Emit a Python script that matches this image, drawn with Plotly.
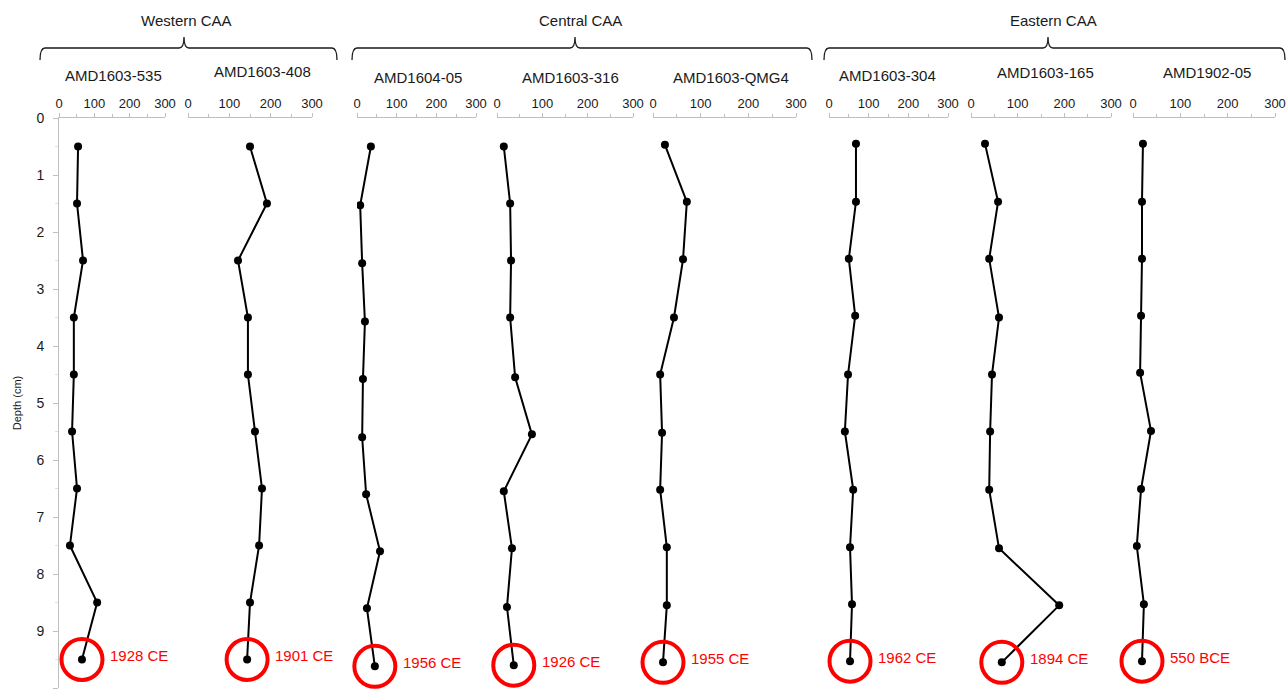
import plotly.graph_objects as go

# ---- data -------------------------------------------------------------
cores = ["AMD1603-535", "AMD1603-408", "AMD1604-05", "AMD1603-316",
         "AMD1603-QMG4", "AMD1603-304", "AMD1603-165", "AMD1902-05"]
regions = ["Western CAA", "Central CAA", "Eastern CAA"]
basal_ages = ["1928 CE", "1901 CE", "1956 CE", "1926 CE",
              "1955 CE", "1962 CE", "1894 CE", "550 BCE"]

depth_535 = [0.5, 1.5, 2.5, 3.5, 4.5, 5.5, 6.5, 7.5, 8.5, 9.5]
value_535 = [54, 51, 68, 42, 42, 37, 51, 31, 108, 65]

depth_408 = [0.5, 1.5, 2.5, 3.5, 4.5, 5.5, 6.5, 7.5, 8.5, 9.5]
value_408 = [150, 191, 121, 145, 145, 162, 179, 172, 150, 143]

depth_05 = [0.5, 1.53, 2.55, 3.57, 4.58, 5.6, 6.6, 7.6, 8.6, 9.62]
value_05 = [35, 8, 13, 20, 15, 13, 23, 58, 25, 45]

depth_316 = [0.5, 1.5, 2.5, 3.5, 4.55, 5.55, 6.55, 7.55, 8.58, 9.6]
value_316 = [15, 29, 31, 29, 40, 77, 15, 33, 22, 37]

depth_qmg4 = [0.47, 1.47, 2.48, 3.5, 4.5, 5.52, 6.52, 7.53, 8.55, 9.55]
value_qmg4 = [25, 71, 63, 44, 15, 19, 15, 29, 29, 21]

depth_304 = [0.45, 1.47, 2.47, 3.47, 4.5, 5.5, 6.52, 7.53, 8.53, 9.53]
value_304 = [68, 68, 50, 66, 48, 40, 61, 53, 58, 53]

depth_165 = [0.45, 1.47, 2.47, 3.5, 4.5, 5.5, 6.52, 7.55, 8.55, 9.55]
value_165 = [30, 58, 39, 60, 45, 41, 39, 60, 189, 66]

depth_1902 = [0.45, 1.47, 2.47, 3.47, 4.47, 5.49, 6.51, 7.51, 8.53, 9.53]
value_1902 = [21, 19, 19, 17, 15, 38, 17, 8, 23, 19]

depths = [depth_535, depth_408, depth_05, depth_316,
          depth_qmg4, depth_304, depth_165, depth_1902]
values = [value_535, value_408, value_05, value_316,
          value_qmg4, value_304, value_165, value_1902]

x_ticks = [0, 100, 200, 300]
depth_ticks = list(range(0, 11))

# ---- layout geometry (pixels) -----------------------------------------
W, H = 1287, 694
panel_px = [(59, 165), (188, 312), (357, 476), (497, 633),
            (653, 796), (829, 948), (971, 1111), (1133, 1275)]
title_px = [(113, 75), (262, 71), (418, 77), (570, 77),
            (731, 78), (888, 75), (1045, 72), (1207, 72)]
bracket_px = [(40, 184, 337), (352, 575, 812), (824, 1048, 1285)]
region_label_px = [(186, 21), (580, 21), (1053, 21)]
plot_top, plot_bottom = 118, 688

FONT = "Liberation Sans, Arial, sans-serif"
GREY = "#bfbfbf"
RED = "#ff0000"


def px(x):
    return x / W


def py(y):
    return 1 - y / H


fig = go.Figure()

for i, (d, v, age) in enumerate(zip(depths, values, basal_ages)):
    xa = "x" if i == 0 else f"x{i + 1}"
    fig.add_trace(go.Scatter(
        x=v, y=d, xaxis=xa, yaxis="y", mode="lines+markers",
        line=dict(color="black", width=2),
        marker=dict(color="black", size=8),
        showlegend=False, hoverinfo="x+y",
    ))
    # red ring around the basal sample
    fig.add_trace(go.Scatter(
        x=[v[-1]], y=[d[-1]], xaxis=xa, yaxis="y", mode="markers",
        marker=dict(symbol="circle-open", size=41, color=RED,
                    line=dict(color=RED, width=4)),
        cliponaxis=False, showlegend=False, hoverinfo="skip",
    ))

layout = dict(
    width=W, height=H,
    margin=dict(l=0, r=0, t=0, b=0, autoexpand=False),
    paper_bgcolor="white", plot_bgcolor="white",
    font=dict(family=FONT, color="#1a1a1a"),
    yaxis=dict(
        domain=[py(plot_bottom), py(plot_top)],
        range=[10, 0], anchor="x", automargin=False,
        tickvals=depth_ticks, ticks="outside", ticklen=5,
        tickcolor=GREY, tickfont=dict(size=14, family=FONT),
        ticklabelstandoff=6,
        showline=True, linecolor=GREY, linewidth=1,
        showgrid=False, zeroline=False,
        minor=dict(dtick=0.5, ticks="outside", ticklen=3, tickcolor="#e0e0e0"),
        title=dict(text="Depth (cm)", font=dict(size=11, family=FONT), standoff=12),
    ),
)

for i, (a, b) in enumerate(panel_px):
    key = "xaxis" if i == 0 else f"xaxis{i + 1}"
    layout[key] = dict(
        domain=[px(a), px(b)], range=[0, 300], anchor="y", side="top",
        automargin=False,
        tickvals=x_ticks, ticks="outside", ticklen=4, tickcolor=GREY,
        tickfont=dict(size=13, family=FONT),
        showline=True, linecolor=GREY, linewidth=1,
        showgrid=False, zeroline=False,
        minor=dict(tickvals=[50, 150, 250], ticks="outside", ticklen=3, tickcolor=GREY),
    )

fig.update_layout(**layout)

annotations = []
shapes = []

# core titles
for name, (tx, ty) in zip(cores, title_px):
    annotations.append(dict(text=name, x=px(tx), y=py(ty), xref="paper", yref="paper",
                            showarrow=False, xanchor="center", yanchor="middle",
                            font=dict(size=15, family=FONT, color="#1a1a1a")))

# region labels and curly brackets
for name, (lx, ly), (x0, xc, x1) in zip(regions, region_label_px, bracket_px):
    annotations.append(dict(text=name, x=px(lx), y=py(ly), xref="paper", yref="paper",
                            showarrow=False, xanchor="center", yanchor="middle",
                            font=dict(size=15, family=FONT, color="#1a1a1a")))
    y_low, y_bar, y_tip = 60, 48, 37
    r = 5
    path = (f"M {px(x0)},{py(y_low)} "
            f"Q {px(x0)},{py(y_bar)} {px(x0 + r)},{py(y_bar)} "
            f"L {px(xc - r)},{py(y_bar)} "
            f"Q {px(xc)},{py(y_bar)} {px(xc)},{py(y_tip)} "
            f"Q {px(xc)},{py(y_bar)} {px(xc + r)},{py(y_bar)} "
            f"L {px(x1 - r)},{py(y_bar)} "
            f"Q {px(x1)},{py(y_bar)} {px(x1)},{py(y_low)}")
    shapes.append(dict(type="path", path=path, xref="paper", yref="paper",
                       line=dict(color="#1a1a1a", width=1.3)))

# age of the basal sample
for i, (d, v, age) in enumerate(zip(depths, values, basal_ages)):
    xr = "x" if i == 0 else f"x{i + 1}"
    annotations.append(dict(text=age, xref=xr, yref="y", x=v[-1], y=d[-1],
                            xanchor="left", yanchor="middle", xshift=26, yshift=4,
                            showarrow=False,
                            font=dict(size=15, family=FONT, color=RED)))

fig.update_layout(annotations=annotations, shapes=shapes)

fig.write_html("out.html")
